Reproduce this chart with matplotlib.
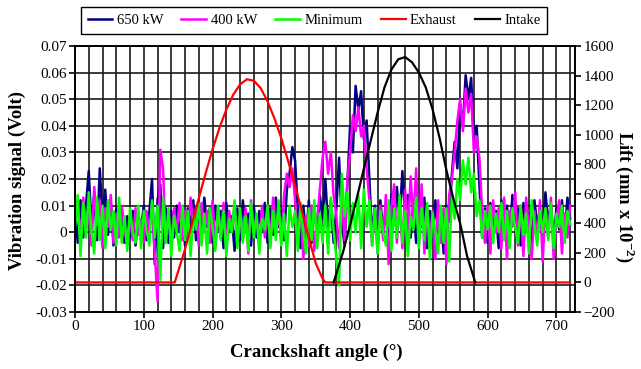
import numpy as np
import matplotlib.pyplot as plt

plt.rcParams['font.family'] = ['Liberation Serif', 'DejaVu Serif']
plt.rcParams['mathtext.fontset'] = 'custom'
plt.rcParams['mathtext.rm'] = 'Liberation Serif'
plt.rcParams['mathtext.bf'] = 'Liberation Serif:bold'

# crank angle of the vibration samples (every 4 deg, 0..720)
angle = np.arange(0, 721, 4)

# vibration signal, mV
vib_650 = [8, -4, 12, -2, 10, 23, 2, 14, -3, 24,
           5, 16, -1, 11, -5, 9, 0, 7, -4, 6,
           -2, 8, -5, 6, 1, 10, -3, 7, 20, -12,
           12, 18, -6, 9, -4, 8, -2, 10, 0, 7,
           -5, 9, 2, 12, -3, 11, -1, 13, 2, 9,
           -4, 10, 1, 8, -6, 11, 0, 6, -7, 9,
           -3, 12, 2, 7, -5, 10, -2, 8, 0, 11,
           -4, 9, -1, 13, 2, 8, -3, 16, 22, 32,
           27, 8, -6, 10, -2, 12, -4, 9, 0, 14,
           5, 20, 2, 12, -4, 9, 28, 3, -5, 18,
           40, 30, 55, 46, 53, 35, 42, 20, -2, 10,
           -4, 12, 0, 9, -8, 14, 3, 17, 5, 23,
           6, 14, -2, 11, -4, 9, 2, 13, -6, 8,
           -3, 12, 0, 7, -8, 10, 4, 22, 34, 24,
           48, 40, 59, 50, 58, 36, 40, 18, -2, 9,
           -4, 11, 2, 8, -6, 12, 0, 10, -3, 14,
           2, 9, -5, 11, 1, 7, -4, 12, 3, 8,
           -2, 15, 4, 10, -3, 9, 1, 12, -2, 13,
           5]

vib_400 = [4, 10, -3, 13, 1, 8, -5, 17, 3, 12,
           -6, 9, 2, 14, -4, 7, -2, 10, 1, -5,
           6, -3, 9, -1, 5, -4, 8, 0, 11, -8,
           -26, 31, 24, -4, 7, -6, 9, 0, 11, -3,
           8, -2, 13, 3, 9, -5, 11, 0, 8, -4,
           12, -6, 9, -2, 11, -7, 8, 1, 10, -5,
           7, -3, 9, -8, 12, 0, 6, -6, 10, -2,
           8, -5, 13, 1, 7, -4, 14, 22, 17, 24,
           12, -2, 9, -10, 6, -5, 10, -7, 4, 16,
           28, 34, 22, 30, 14, 6, -6, 12, -3, 20,
           30, 44, 38, 47, 36, 40, 24, 12, -5, 8,
           -8, 10, -3, 14, -12, 9, 18, -4, 12, -6,
           16, -2, 21, 4, 24, -5, 18, -8, 10, -3,
           8, -10, 12, -4, 9, -12, 14, 20, 30, 42,
           50, 38, 54, 45, 52, 30, 36, 28, 8, -4,
           10, -8, 12, 0, 9, -6, 13, -10, 8, 2,
           15, -5, 10, -9, 13, 1, -10, 8, -3, 12,
           -11, 9, -2, 13, -10, 5, 12, -8, 7, -2,
           10]

vib_min = [2, 14, -9, 11, -2, 15, 0, -8, 13, -3,
           10, -6, 12, 1, 8, -5, 13, -4, 6, -7,
           9, 0, -4, 10, -6, 8, 1, -5, 12, -2,
           10, -18, 13, -4, 9, -9, 6, 0, -7, 10,
           -3, 8, -9, 6, 1, 11, -5, 7, -8, 9,
           2, -7, 10, -3, 8, -9, 5, 0, 12, -6,
           9, -4, 6, -7, 11, -2, 7, -8, 5, 1,
           10, -6, 8, -3, 12, -5, 7, -9, 10, 2,
           8, -7, 11, 0, -8, 9, -3, 12, -6, 7,
           -4, 10, -8, 13, 1, -10, -20, 22, 6, 15,
           -3, 11, 0, 14, -6, 16, 2, 12, -5, 9,
           -8, 8, 0, -5, 12, -7, 9, -2, 14, -4,
           8, -9, 6, 1, 13, -6, 9, -3, 11, -10,
           7, 0, -8, 10, -4, 9, -11, 14, 5, 20,
           12, 27, 18, 28, 15, 22, 6, 12, -2, 8,
           1, 10, -4, 7, 0, 11, -3, 8, -6, 9,
           2, -4, 10, -1, 7, -8, 12, 3, -5, 8,
           0, 9, -3, 11, -6, 7, 2, 10, -4, 8,
           3]

# valve lift, mm x 10^-2
exhaust_angle = [0, 145, 150, 160, 170, 180, 190, 200, 210, 220, 230, 240, 250,
                 260, 270, 280, 290, 300, 310, 320, 330, 340, 350, 360, 364, 720]
exhaust_lift = [0, 0, 75, 225, 395, 570, 740, 900, 1045, 1170, 1270, 1340, 1375,
                1365, 1315, 1225, 1110, 975, 820, 655, 480, 300, 130, 25, 0, 0]

intake_angle = [376, 380, 390, 400, 410, 420, 430, 440, 450, 460, 470, 480,
                490, 500, 510, 520, 530, 540, 550, 560, 570, 580, 582]
intake_lift = [0, 60, 210, 390, 575, 770, 960, 1150, 1320, 1440, 1510, 1525,
               1490, 1420, 1320, 1170, 980, 760, 570, 400, 180, 30, 0]

fig = plt.figure(figsize=(6.41, 3.69), dpi=100)
ax = fig.add_axes([75/641, 1-312/369, 500/641, 266/369])
ax2 = ax.twinx()

h1, = ax.plot(angle, np.array(vib_650)/1000, color='#000080', lw=1.8, label='650 kW')
h2, = ax.plot(angle, np.array(vib_400)/1000, color='#ff00ff', lw=1.8, label='400 kW')
h3, = ax.plot(angle, np.array(vib_min)/1000, color='#00ff00', lw=1.8, label='Minimum')
h4, = ax2.plot(exhaust_angle, exhaust_lift, color='#ff0000', lw=1.6, label='Exhaust')
h5, = ax2.plot(intake_angle, intake_lift, color='black', lw=1.6, label='Intake')

ax.set_xlim(0, 727)
ax.set_ylim(-0.03, 0.07)
ax2.set_ylim(-200, 1600)

ax.set_xticks(range(0, 701, 100))
ax.set_xticks(range(0, 721, 20), minor=True)
yt = [-0.03, -0.02, -0.01, 0, 0.01, 0.02, 0.03, 0.04, 0.05, 0.06, 0.07]
ax.set_yticks(yt)
ax.set_yticklabels(['-0.03', '-0.02', '-0.01', '0', '0.01', '0.02', '0.03',
                    '0.04', '0.05', '0.06', '0.07'])
ax2.set_yticks(range(-200, 1601, 200))

ax.set_axisbelow(True)
ax.grid(which='both', axis='x', color='#1a1a1a', lw=1.2)
ax.grid(which='major', axis='y', color='#1a1a1a', lw=1.2)

ax.tick_params(which='major', direction='out', length=4, width=1.2, labelsize=11, pad=2)
ax.tick_params(which='minor', length=0)
ax2.tick_params(direction='out', length=4, width=1.2, labelsize=11, pad=2)
for a in (ax, ax2):
    for s in a.spines.values():
        s.set_linewidth(1.3)

fig.text(17/641, 1-180/369, 'Vibration signal (Volt)', rotation=90, fontsize=13.5,
         fontweight='bold', ha='center', va='center')
fig.text(625/641, 1-197/369, r'Lift (mm x 10$^{\mathbf{-2}}$)', rotation=-90, fontsize=13.5,
         fontweight='bold', ha='center', va='center')
fig.text(316/641, 1-352/369, 'Cranckshaft angle (°)', fontsize=13.5,
         fontweight='bold', ha='center', va='center')

leg = fig.legend(handles=[h1, h2, h3, h4, h5], loc='center',
                 bbox_to_anchor=(314/641, 1-20.5/369), ncol=5, fontsize=10.5,
                 frameon=True, fancybox=False, edgecolor='black', framealpha=1,
                 handlelength=1.7, handletextpad=0.3, columnspacing=1.25,
                 borderpad=0.45)
leg.get_frame().set_linewidth(1.0)

fig.savefig('out.png', dpi=100)
